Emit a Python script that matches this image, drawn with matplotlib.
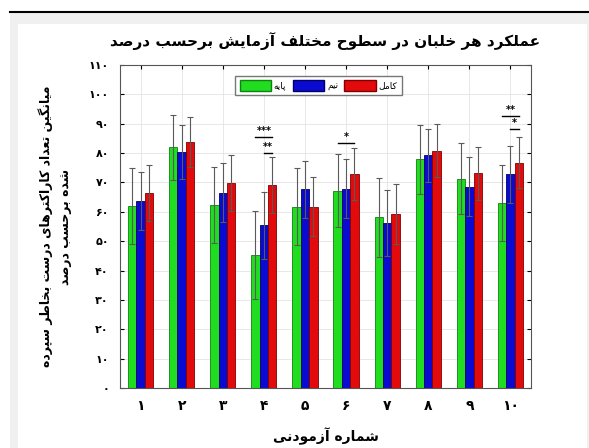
import numpy as np
import matplotlib
matplotlib.use('Agg')
import matplotlib.pyplot as plt
from matplotlib.patches import Patch, Rectangle
from matplotlib.lines import Line2D

plt.rcParams['font.family'] = ['DejaVu Sans']

# data
subjects = ['۱', '۲', '۳', '۴', '۵', '۶', '۷', '۸', '۹', '۱۰']
yticklabels = ['۰', '۱۰', '۲۰', '۳۰', '۴۰', '۵۰', '۶۰', '۷۰', '۸۰', '۹۰', '۱۰۰', '۱۱۰']
series_names = ['پایه', 'نیم', 'کامل']

base = [62.0, 82.0, 62.3, 45.3, 61.8, 67.2, 58.1, 77.9, 71.3, 62.9]
half = [63.7, 80.4, 66.5, 55.5, 67.7, 67.9, 56.1, 79.2, 68.6, 72.8]
full = [66.3, 83.7, 69.7, 69.1, 61.8, 72.9, 59.3, 80.8, 73.1, 76.7]
err_base = [13.0, 11.0, 13.0, 15.0, 13.0, 12.5, 13.5, 11.7, 12.0, 13.0]
err_half = [10.0, 9.3, 10.0, 11.4, 9.7, 10.0, 11.3, 9.0, 10.0, 9.7]
err_full = [9.5, 8.5, 9.5, 9.5, 10.0, 9.0, 10.2, 9.0, 9.0, 8.7]

# significance: (subject, from series, to series, height, stars)
sig_subject = [4, 4, 6, 10, 10]
sig_from = [0, 1, 0, 0, 1]
sig_to = [2, 2, 2, 2, 2]
sig_height = [85.6, 80.0, 83.6, 92.6, 88.1]
sig_stars = ['***', '**', '*', '**', '*']

title = 'عملکرد هر خلبان در سطوح مختلف آزمایش برحسب درصد'
ylab1 = 'میانگین تعداد کاراکترهای درست بخاطر سپرده'
ylab2 = 'شده برحسب درصد'
xlab = 'شماره آزمودنی'

# matplotlib does no arabic shaping, so pick presentation forms by hand
FORMS = {
    'ا': '\uFE8D\uFE8E', 'آ': '\uFE81\uFE82', 'د': '\uFEA9\uFEAA',
    'ر': '\uFEAD\uFEAE', 'ز': '\uFEAF\uFEB0', 'و': '\uFEED\uFEEE',
    'ب': '\uFE8F\uFE90\uFE91\uFE92', 'پ': '\uFB56\uFB57\uFB58\uFB59',
    'ت': '\uFE95\uFE96\uFE97\uFE98', 'ح': '\uFEA1\uFEA2\uFEA3\uFEA4',
    'خ': '\uFEA5\uFEA6\uFEA7\uFEA8', 'س': '\uFEB1\uFEB2\uFEB3\uFEB4',
    'ش': '\uFEB5\uFEB6\uFEB7\uFEB8', 'ص': '\uFEB9\uFEBA\uFEBB\uFEBC',
    'ط': '\uFEC1\uFEC2\uFEC3\uFEC4', 'ع': '\uFEC9\uFECA\uFECB\uFECC',
    'ف': '\uFED1\uFED2\uFED3\uFED4', 'ک': '\uFB8E\uFB8F\uFB90\uFB91',
    'گ': '\uFB92\uFB93\uFB94\uFB95', 'ل': '\uFEDD\uFEDE\uFEDF\uFEE0',
    'م': '\uFEE1\uFEE2\uFEE3\uFEE4', 'ن': '\uFEE5\uFEE6\uFEE7\uFEE8',
    'ه': '\uFEE9\uFEEA\uFEEB\uFEEC', 'ی': '\uFBFC\uFBFD\uFBFE\uFBFF',
}


def shape(text):
    words = []
    for word in text.split(' '):
        res = []
        for i, c in enumerate(word):
            f = FORMS.get(c)
            if f is None:
                res.append(c)
                continue
            prev = word[i - 1] if i > 0 else None
            nxt = word[i + 1] if i < len(word) - 1 else None
            jp = prev in FORMS and len(FORMS[prev]) == 4
            jn = nxt in FORMS and len(f) == 4
            if jp and jn:
                res.append(f[3])
            elif jp:
                res.append(f[1])
            elif jn:
                res.append(f[2])
            else:
                res.append(f[0])
        words.append(''.join(res))
    return ' '.join(words)[::-1]


fig = plt.figure(figsize=(5.89, 4.48), dpi=100)
fig.patch.set_facecolor('white')
fig.add_artist(Rectangle((10 / 589, 0), 1, (448 - 13) / 448, transform=fig.transFigure,
                         facecolor='#f0f0f0', edgecolor='none', zorder=-10))
fig.add_artist(Rectangle((18 / 589, 0), 569 / 589, (448 - 24) / 448, transform=fig.transFigure,
                         facecolor='white', edgecolor='none', zorder=-9))
fig.add_artist(Line2D([10 / 589, 1], [(448 - 12) / 448] * 2, transform=fig.transFigure,
                      color='black', lw=1.5))

ax = fig.add_axes([120 / 589, 60 / 448, 411 / 589, 323 / 448])

x = np.arange(1, 11)
w = 0.205
values = [base, half, full]
errors = [err_base, err_half, err_full]
colors = ['#20dd20', '#0a0ad0', '#e20a0a']
edges = ['#108010', '#00006a', '#800000']
for k in range(3):
    ax.bar(x + (k - 1) * w, values[k], w, color=colors[k], edgecolor=edges[k],
           linewidth=0.6, zorder=2)
    ax.errorbar(x + (k - 1) * w, values[k], yerr=errors[k], fmt='none',
                ecolor='#5a5a5a', elinewidth=0.8, capsize=2.5, capthick=0.8, zorder=3)

for s, a, b, h, st in zip(sig_subject, sig_from, sig_to, sig_height, sig_stars):
    x0 = s + (a - 1) * w
    x1 = s + (b - 1) * w
    ax.plot([x0, x1], [h, h], color='black', lw=1.0, zorder=4)
    ax.text((x0 + x1) / 2, h + 0.3, st, ha='center', va='bottom', fontsize=7,
            fontweight='bold', zorder=4)

ax.set_xlim(0.5, 10.5)
ax.set_ylim(0, 110)
ax.set_xticks(x)
ax.set_xticklabels(subjects, fontsize=10, fontweight='bold')
ax.set_yticks(np.arange(0, 111, 10))
ax.set_yticklabels(yticklabels, fontsize=8, fontweight='bold')
ax.tick_params(direction='in', length=3, top=True, right=True, pad=8)
ax.grid(True, color='#e4e4e4', lw=0.6, zorder=0)
ax.set_axisbelow(True)
for sp in ax.spines.values():
    sp.set_color('#555555')
    sp.set_linewidth(0.8)

ax.set_title(shape(title), fontsize=11, fontweight='bold', pad=14)
ax.set_xlabel(shape(xlab), fontsize=10, fontweight='bold', labelpad=10)
ax.set_ylabel(shape(ylab1) + '\n' + shape(ylab2), fontsize=9, fontweight='bold',
              labelpad=12, linespacing=1.6)

handles = [Patch(facecolor=colors[k], edgecolor=edges[k]) for k in range(3)]
ax.legend(handles, [shape(n) for n in series_names], ncol=3, loc='upper left',
          bbox_to_anchor=(0.27, 0.98), fontsize=6.5, handlelength=3.5, handleheight=1.5,
          handletextpad=0.3, columnspacing=0.7, borderpad=0.45, frameon=True,
          fancybox=False, edgecolor='#777777', framealpha=1)

fig.savefig('out.png', dpi=100)
